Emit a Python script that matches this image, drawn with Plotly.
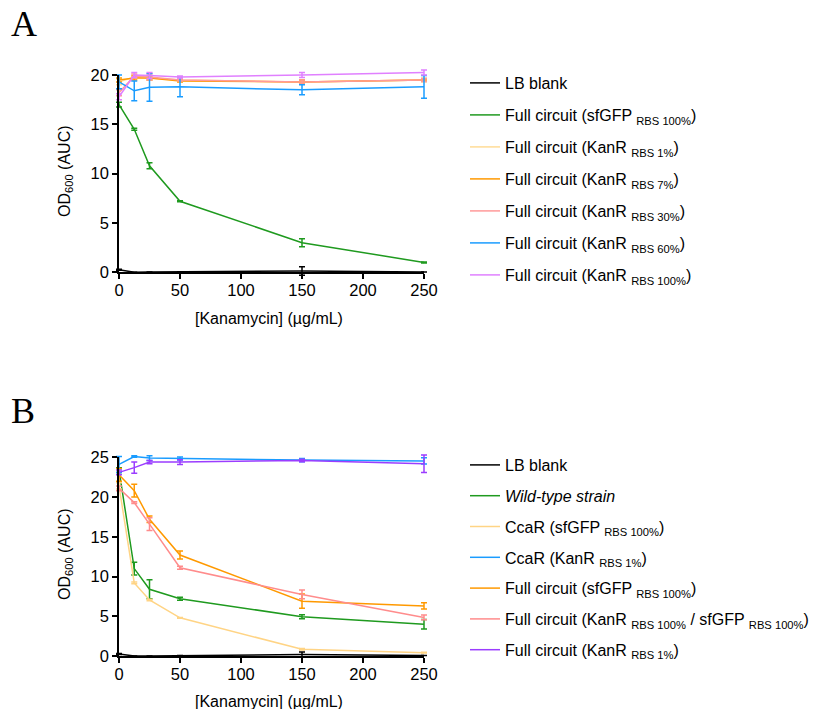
import plotly.graph_objects as go

# ---------------- data ----------------
kan = [0, 12.5, 25, 50, 150, 250]  # kanamycin, ug/mL

# Panel A
a_names = [
    "LB blank",
    "Full circuit (sfGFP <sub>RBS 100%</sub>)",
    "Full circuit (KanR <sub>RBS 1%</sub>)",
    "Full circuit (KanR <sub>RBS 7%</sub>)",
    "Full circuit (KanR <sub>RBS 30%</sub>)",
    "Full circuit (KanR <sub>RBS 60%</sub>)",
    "Full circuit (KanR <sub>RBS 100%</sub>)",
]
a_colors = ["#000000", "#1f9a1f", "#ffdc96", "#ff9900", "#ff9a9a", "#1a9cff", "#e080ff"]
a_lb = [0.25, 0.0, 0.02, 0.05, 0.13, 0.02]
a_lb_err = [0.05, 0.0, 0.0, 0.0, 0.44, 0.0]
a_sfgfp = [17.0, 14.5, 10.8, 7.2, 3.0, 1.0]
a_sfgfp_err = [0.25, 0.1, 0.3, 0.05, 0.4, 0.05]
a_kan1 = [19.3, 19.8, 19.7, 19.5, 19.3, 19.5]
a_kan1_err = [0.3, 0.2, 0.2, 0.1, 0.2, 0.2]
a_kan7 = [19.5, 19.7, 19.7, 19.4, 19.3, 19.5]
a_kan7_err = [0.2, 0.2, 0.2, 0.1, 0.2, 0.1]
a_kan30 = [18.2, 19.9, 19.8, 19.5, 19.3, 19.5]
a_kan30_err = [0.3, 0.2, 0.3, 0.1, 0.2, 0.15]
a_kan60 = [19.3, 18.4, 18.75, 18.8, 18.5, 18.8]
a_kan60_err = [0.7, 1.0, 1.4, 1.0, 0.5, 1.15]
a_kan100 = [17.8, 20.0, 19.95, 19.8, 20.0, 20.25]
a_kan100_err = [0.3, 0.25, 0.3, 0.1, 0.25, 0.25]
a_vals = [a_lb, a_sfgfp, a_kan1, a_kan7, a_kan30, a_kan60, a_kan100]
a_errs = [a_lb_err, a_sfgfp_err, a_kan1_err, a_kan7_err, a_kan30_err, a_kan60_err, a_kan100_err]

# Panel B
b_names = [
    "LB blank",
    "<i>Wild-type strain</i>",
    "CcaR (sfGFP <sub>RBS 100%</sub>)",
    "CcaR (KanR <sub>RBS 1%</sub>)",
    "Full circuit (sfGFP <sub>RBS 100%</sub>)",
    "Full circuit (KanR <sub>RBS 100%</sub> / sfGFP <sub>RBS 100%</sub>)",
    "Full circuit (KanR <sub>RBS 1%</sub>)",
]
b_colors = ["#000000", "#1f9a1f", "#ffd485", "#1a9cff", "#ff9900", "#ff8c8c", "#9b3dff"]
b_lb = [0.25, 0.0, 0.0, 0.05, 0.2, 0.05]
b_lb_err = [0.05, 0.0, 0.0, 0.0, 0.3, 0.0]
b_wt = [23.4, 11.0, 8.4, 7.2, 4.95, 4.0]
b_wt_err = [0.3, 0.8, 1.2, 0.2, 0.25, 0.6]
b_ccar_gfp = [21.4, 9.2, 7.05, 4.8, 0.85, 0.42]
b_ccar_gfp_err = [0.4, 0.1, 0.1, 0.05, 0.1, 0.05]
b_ccar_kan1 = [24.1, 25.1, 24.9, 24.85, 24.65, 24.55]
b_ccar_kan1_err = [1.0, 0.1, 0.3, 0.2, 0.2, 0.4]
b_fc_gfp = [22.8, 20.8, 17.2, 12.7, 6.9, 6.3]
b_fc_gfp_err = [0.8, 0.8, 0.4, 0.5, 0.9, 0.4]
b_fc_kan100 = [21.1, 19.3, 16.6, 11.1, 7.75, 4.85]
b_fc_kan100_err = [0.3, 0.1, 0.8, 0.2, 0.55, 0.3]
b_fc_kan1 = [23.1, 23.7, 24.4, 24.4, 24.6, 24.2]
b_fc_kan1_err = [0.3, 0.7, 0.2, 0.3, 0.15, 1.1]
b_vals = [b_lb, b_wt, b_ccar_gfp, b_ccar_kan1, b_fc_gfp, b_fc_kan100, b_fc_kan1]
b_errs = [b_lb_err, b_wt_err, b_ccar_gfp_err, b_ccar_kan1_err, b_fc_gfp_err, b_fc_kan100_err, b_fc_kan1_err]

x_ticks = [0, 50, 100, 150, 200, 250]
a_y_ticks = [0, 5, 10, 15, 20]
b_y_ticks = [0, 5, 10, 15, 20, 25]

# ---------------- geometry (pixels) ----------------
W, H = 822, 709
FONT = "Liberation Sans, Arial, sans-serif"
SERIF = "Liberation Serif, Times New Roman, serif"
X0PX, X1PX = 119, 424          # x = 0 .. 250
A_Y0PX, A_Y1PX = 272.3, 75.0   # y = 0 .. 20
B_Y0PX, B_Y1PX = 656.0, 457.3  # y = 0 .. 25
X_PAD = (-6, 256)
A_YMAX, B_YMAX = 20, 25
A_PAD = (-0.7, 20.9)
B_PAD = (-0.7, 25.9)


def xdom(lo, hi):
    s = (X1PX - X0PX) / 250
    return [(X0PX + lo * s) / W, (X0PX + hi * s) / W]


def ydom(y0px, y1px, ymax, lo, hi):
    s = (y0px - y1px) / ymax
    return [1 - (y0px - lo * s) / H, 1 - (y0px - hi * s) / H]


hidden = dict(visible=False, showgrid=False, zeroline=False, fixedrange=True)
frame_common = dict(
    showline=True, linewidth=1.5, linecolor="black", ticks="outside",
    ticklen=5, tickwidth=1.5, tickcolor="black", showgrid=False, zeroline=False,
    tickfont=dict(family=FONT, size=16.5, color="black"), fixedrange=True,
)

fig = go.Figure()


def add_panel(names, colors, vals, errs, xa, ya, legend, prefix):
    for i, (n, c, v, e) in enumerate(zip(names, colors, vals, errs)):
        fig.add_trace(go.Scatter(
            x=kan, y=v, mode="lines", name=n,
            line=dict(color=c, width=1.5),
            error_y=dict(type="data", array=e, visible=True, color=c, thickness=1.5, width=3),
            xaxis=xa, yaxis=ya, legend=legend, legendgroup=f"{prefix}{i}",
        ))


add_panel(a_names, a_colors, a_vals, a_errs, "x", "y", "legend", "a")
add_panel(b_names, b_colors, b_vals, b_errs, "x3", "y3", "legend2", "b")

# empty traces so the frame subplots are created
for xa, ya in (("x2", "y2"), ("x4", "y4")):
    fig.add_trace(go.Scatter(x=[None], y=[None], xaxis=xa, yaxis=ya,
                             showlegend=False, hoverinfo="skip"))

legend_font = dict(family=FONT, size=16, color="black")
fig.update_layout(
    width=W, height=H,
    margin=dict(l=0, r=0, t=0, b=0, autoexpand=False),
    paper_bgcolor="white", plot_bgcolor="rgba(0,0,0,0)",
    font=dict(family=FONT, size=16, color="black"),
    # data axes (padded, invisible)
    xaxis=dict(domain=xdom(*X_PAD), range=list(X_PAD), anchor="y", **hidden),
    yaxis=dict(domain=ydom(A_Y0PX, A_Y1PX, A_YMAX, *A_PAD), range=list(A_PAD), anchor="x", **hidden),
    xaxis3=dict(domain=xdom(*X_PAD), range=list(X_PAD), anchor="y3", **hidden),
    yaxis3=dict(domain=ydom(B_Y0PX, B_Y1PX, B_YMAX, *B_PAD), range=list(B_PAD), anchor="x3", **hidden),
    # frame axes (exact ranges)
    xaxis2=dict(domain=xdom(0, 250), range=[0, 250], anchor="y2", tickvals=x_ticks,
                ticklabelstandoff=-3, **frame_common),
    yaxis2=dict(domain=ydom(A_Y0PX, A_Y1PX, A_YMAX, 0, A_YMAX), range=[0, A_YMAX], anchor="x2",
                tickvals=a_y_ticks, **frame_common),
    xaxis4=dict(domain=xdom(0, 250), range=[0, 250], anchor="y4", tickvals=x_ticks,
                ticklabelstandoff=-3, **frame_common),
    yaxis4=dict(domain=ydom(B_Y0PX, B_Y1PX, B_YMAX, 0, B_YMAX), range=[0, B_YMAX], anchor="x4",
                tickvals=b_y_ticks, **frame_common),
    legend=dict(x=465 / W, y=1 - 66 / H, xanchor="left", yanchor="top",
                tracegroupgap=8.2, bgcolor="rgba(0,0,0,0)", font=legend_font),
    legend2=dict(x=465 / W, y=1 - 448 / H, xanchor="left", yanchor="top",
                 tracegroupgap=7.0, bgcolor="rgba(0,0,0,0)", font=legend_font),
    showlegend=True,
)

ann = [
    dict(text="A", x=9 / W, y=1 - 24 / H, xanchor="left", yanchor="middle",
         font=dict(family=SERIF, size=36)),
    dict(text="B", x=9 / W, y=1 - 411 / H, xanchor="left", yanchor="middle",
         font=dict(family=SERIF, size=36)),
    dict(text="OD<sub>600</sub> (AUC)", x=65 / W, y=1 - 171 / H, textangle=-90,
         xanchor="center", yanchor="middle", font=dict(family=FONT, size=16)),
    dict(text="OD<sub>600</sub> (AUC)", x=65 / W, y=1 - 554 / H, textangle=-90,
         xanchor="center", yanchor="middle", font=dict(family=FONT, size=16)),
    dict(text="[Kanamycin] (µg/mL)", x=269 / W, y=1 - 318 / H,
         xanchor="center", yanchor="middle", font=dict(family=FONT, size=16)),
    dict(text="[Kanamycin] (µg/mL)", x=269 / W, y=1 - 701 / H,
         xanchor="center", yanchor="middle", font=dict(family=FONT, size=16)),
]
for a in ann:
    a.update(xref="paper", yref="paper", showarrow=False)
fig.update_layout(annotations=ann)

fig.write_html("out.html")
